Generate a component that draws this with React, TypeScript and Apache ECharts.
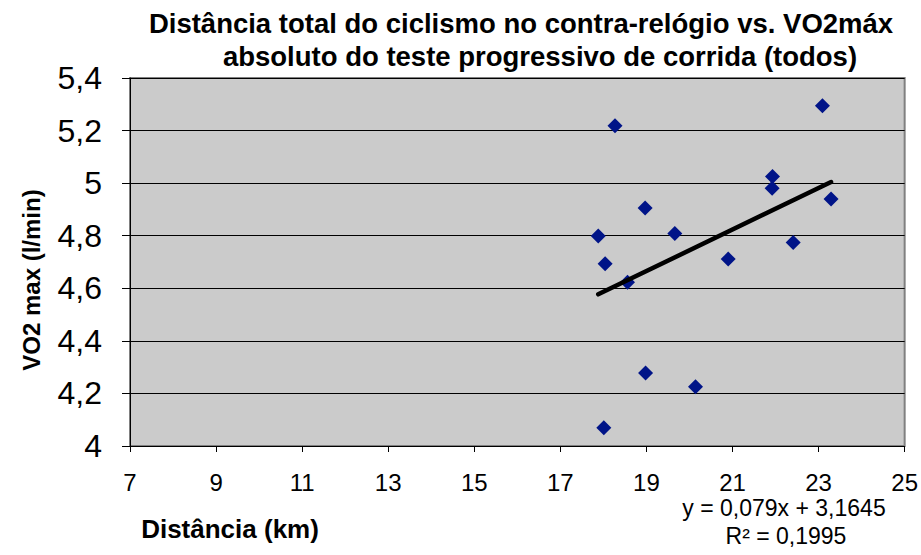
import React, { useEffect, useRef } from "react";
import * as echarts from "echarts";

const distanceKm = [18.27, 23.09, 21.93, 21.92, 23.29, 18.97, 17.88, 19.66, 22.41, 18.04, 20.9, 18.56, 18.98, 20.14, 18.01];
const vo2Max = [5.218, 5.294, 5.025, 4.981, 4.94, 4.905, 4.799, 4.808, 4.774, 4.693, 4.711, 4.623, 4.278, 4.225, 4.069];
const trendSlope = 0.079;
const trendIntercept = 3.1645;
const trendR2 = "0,1995";
const titleLines = [
  "Distância total do ciclismo no contra-relógio vs. VO2máx",
  "absoluto do teste progressivo de corrida (todos)",
];
const xAxisName = "Distância (km)";
const yAxisName = "VO2 max (l/min)";

const fmt = (v: number) => String(Math.round(v * 10) / 10).replace(".", ",");

export default function App() {
  const ref = useRef<HTMLDivElement>(null);
  useEffect(() => {
    if (!ref.current) return;
    const chart = echarts.init(ref.current, null, { renderer: "svg" });
    const points = distanceKm.map((x, i) => [x, vo2Max[i]]);
    const xMin = Math.min(...distanceKm);
    const xMax = Math.max(...distanceKm);
    const trend = [
      [xMin, trendSlope * xMin + trendIntercept],
      [xMax, trendSlope * xMax + trendIntercept],
    ];
    const font = "Liberation Sans, Arial, sans-serif";
    chart.setOption({
      animation: false,
      backgroundColor: "#ffffff",
      textStyle: { fontFamily: font },
      title: [
        {
          text: titleLines[0],
          left: 521,
          top: 9,
          padding: 0,
          textAlign: "center",
          textStyle: { fontFamily: font, fontSize: 27.5, fontWeight: "bold", color: "#000" },
        },
        {
          text: titleLines[1],
          left: 540,
          top: 42,
          padding: 0,
          textAlign: "center",
          textStyle: { fontFamily: font, fontSize: 27.5, fontWeight: "bold", color: "#000" },
        },
      ],
      grid: {
        left: 130,
        right: 16,
        top: 78,
        bottom: 109,
        show: true,
        backgroundColor: "#cbcbcb",
        borderColor: "#808080",
        borderWidth: 2,
      },
      xAxis: {
        type: "value",
        min: 7,
        max: 25,
        interval: 2,
        axisLine: { show: true, lineStyle: { color: "#000", width: 1 } },
        axisTick: { show: true, inside: false, length: 6, lineStyle: { color: "#000" } },
        splitLine: { show: false },
        axisLabel: { fontSize: 24, color: "#000", margin: 24, fontFamily: font },
      },
      yAxis: {
        type: "value",
        min: 4,
        max: 5.4,
        interval: 0.2,
        name: yAxisName,
        nameLocation: "middle",
        nameRotate: 90,
        nameGap: 87,
        nameTextStyle: { fontSize: 24, fontWeight: "bold", color: "#000", fontFamily: font, padding: [0, 36, 0, 0] },
        axisLine: { show: true, lineStyle: { color: "#000", width: 1 } },
        axisTick: { show: true, inside: false, length: 8, lineStyle: { color: "#000" } },
        splitLine: { show: true, lineStyle: { color: "#000", width: 1 } },
        axisLabel: { fontSize: 32, color: "#000", margin: 28, fontFamily: font, formatter: fmt },
      },
      graphic: [
        {
          type: "text",
          x: 230,
          y: 529,
          style: {
            text: xAxisName,
            fontSize: 26,
            fontWeight: "bold",
            fontFamily: font,
            fill: "#000",
            textAlign: "center",
            textVerticalAlign: "middle",
          },
        },
        {
          type: "text",
          x: 784,
          y: 508,
          style: {
            text: "y = " + String(trendSlope).replace(".", ",") + "x + " + String(trendIntercept).replace(".", ","),
            fontSize: 23,
            fontFamily: font,
            fill: "#000",
            textAlign: "center",
            textVerticalAlign: "middle",
          },
        },
        {
          type: "text",
          x: 786,
          y: 536,
          style: {
            text: "R² = " + trendR2,
            fontSize: 23,
            fontFamily: font,
            fill: "#000",
            textAlign: "center",
            textVerticalAlign: "middle",
          },
        },
      ],
      series: [
        {
          type: "scatter",
          data: points,
          symbol: "diamond",
          symbolSize: 15,
          itemStyle: { color: "#001488", opacity: 1 },
          z: 3,
        },
        {
          type: "line",
          data: trend,
          symbol: "none",
          lineStyle: { color: "#000", width: 4.5, cap: "round" },
          z: 4,
        },
      ],
    });
    return () => chart.dispose();
  }, []);
  return <div ref={ref} style={{ position: "fixed", left: 0, top: 0, width: 921, height: 555 }} />;
}
